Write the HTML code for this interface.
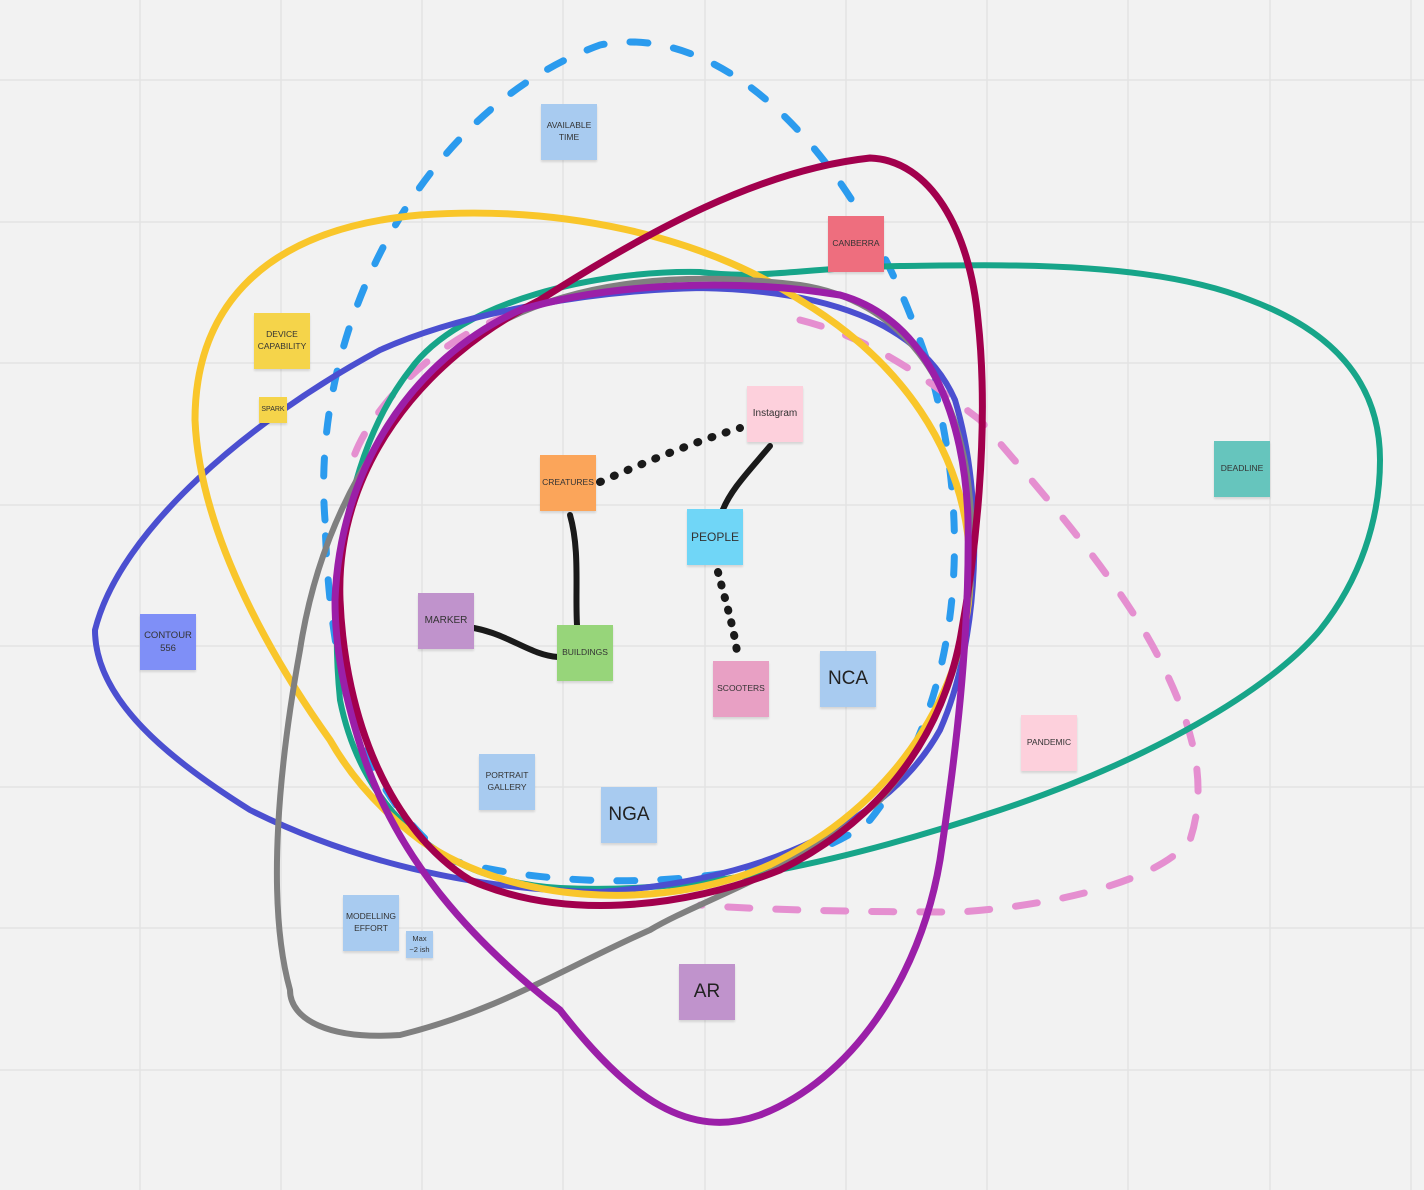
<!DOCTYPE html>
<html><head><meta charset="utf-8"><style>
html,body{margin:0;padding:0;}
body{width:1424px;height:1190px;background:#f2f2f2;position:relative;overflow:hidden;font-family:"Liberation Sans",sans-serif;}
.n{position:absolute;width:56px;height:56px;display:flex;align-items:center;justify-content:center;text-align:center;font-size:8.5px;color:#333;line-height:1.4;box-shadow:0 2px 2px rgba(0,0,0,0.12);}
.big{font-size:19px;color:#222;}
.mid{font-size:12px;}
</style></head><body>
<svg width="1424" height="1190" style="position:absolute;left:0;top:0">
<g stroke="#e3e3e3" stroke-width="1.5">
<line x1="140" y1="0" x2="140" y2="1190"/><line x1="281" y1="0" x2="281" y2="1190"/><line x1="422" y1="0" x2="422" y2="1190"/><line x1="563" y1="0" x2="563" y2="1190"/><line x1="705" y1="0" x2="705" y2="1190"/><line x1="846" y1="0" x2="846" y2="1190"/><line x1="987" y1="0" x2="987" y2="1190"/><line x1="1128" y1="0" x2="1128" y2="1190"/><line x1="1270" y1="0" x2="1270" y2="1190"/><line x1="1411" y1="0" x2="1411" y2="1190"/>
<line x1="0" y1="80" x2="1424" y2="80"/><line x1="0" y1="222" x2="1424" y2="222"/><line x1="0" y1="363" x2="1424" y2="363"/><line x1="0" y1="505" x2="1424" y2="505"/><line x1="0" y1="646" x2="1424" y2="646"/><line x1="0" y1="787" x2="1424" y2="787"/><line x1="0" y1="928" x2="1424" y2="928"/><line x1="0" y1="1070" x2="1424" y2="1070"/>
</g>
<g fill="none" stroke-linecap="round" stroke-linejoin="round">
<path d="M325 520 C310 330 420 110 600 45 C720 20 860 150 930 370 C980 550 950 720 870 820 C800 880 600 900 450 860 C370 800 330 700 325 520" stroke="#2b9bee" stroke-width="7" stroke-dasharray="18 26"/>
<path d="M510 315 C430 340 360 420 350 470 M800 320 C880 340 940 390 980 420 C1040 490 1120 580 1160 660 C1190 720 1210 780 1190 840 C1160 880 1060 905 960 912 C860 912 760 910 700 905" stroke="#e58fd0" stroke-width="7" stroke-dasharray="22 26"/>
<path d="M1380 460 C1380 380 1330 330 1250 300 C1150 260 1000 265 900 266 C800 268 760 280 700 272 C600 270 460 300 410 370 C340 460 330 600 340 700 C360 800 430 880 560 888 C700 895 850 860 1000 810 C1150 760 1270 690 1320 630 C1360 580 1380 520 1380 460" stroke="#17a589" stroke-width="6"/>
<path d="M95 630 C120 530 250 420 380 350 C470 310 600 290 700 288 C820 290 920 320 955 400 C985 500 980 640 940 730 C890 820 770 880 600 892 C450 890 330 850 250 810 C170 760 95 700 95 630" stroke="#4b4fd0" stroke-width="6"/>
<path d="M330 740 C280 670 200 540 195 420 C195 320 250 230 420 215 C560 205 700 235 800 300 C900 360 965 450 970 560 C975 680 900 800 780 860 C680 910 520 910 420 840 C380 810 350 775 330 740" stroke="#f9c62b" stroke-width="7"/>
<path d="M290 990 C265 900 280 760 300 650 C320 520 380 420 470 340 C560 280 680 270 800 285 C900 300 960 380 970 500 C980 620 950 720 880 800 C800 870 700 900 650 930 C560 970 500 1010 400 1035 C330 1040 290 1020 290 990" stroke="#808080" stroke-width="6"/>
<path d="M340 600 C335 470 420 360 540 300 C650 230 760 170 870 158 C930 160 970 230 978 320 C990 430 975 560 960 640 C940 740 880 820 780 870 C680 910 560 920 470 880 C390 830 345 720 340 600" stroke="#a2004d" stroke-width="7"/>
<path d="M335 600 C340 470 410 360 520 310 C620 280 750 280 840 295 C930 320 965 420 968 520 C970 640 955 760 940 860 C920 980 850 1080 760 1115 C690 1140 630 1100 560 1010 C470 940 400 860 365 760 C345 700 335 650 335 600" stroke="#9b1fa8" stroke-width="7"/>
</g>
<g fill="none" stroke="#1a1a1a" stroke-linecap="round">
<path d="M600 482 C650 460 700 440 740 428" stroke-width="8" stroke-dasharray="1 14"/>
<path d="M770 446 C750 470 730 490 722 512" stroke-width="6"/>
<path d="M718 572 C725 600 735 630 738 660" stroke-width="8" stroke-dasharray="1 12"/>
<path d="M570 515 C580 550 575 590 577 625" stroke-width="6"/>
<path d="M474 628 C510 635 530 655 558 657" stroke-width="6"/>
</g>
</svg>
<div class="n" style="left:541px;top:104px;background:#a8cbf0">AVAILABLE<br>TIME</div>
<div class="n" style="left:828px;top:216px;background:#ee6e7e">CANBERRA</div>
<div class="n" style="left:254px;top:313px;background:#f5d44a">DEVICE<br>CAPABILITY</div>
<div class="n" style="left:259px;top:397px;width:28px;height:26px;background:#f5d44a;font-size:7px">SPARK</div>
<div class="n" style="left:747px;top:386px;background:#fdd0dc;font-size:10px">Instagram</div>
<div class="n" style="left:540px;top:455px;background:#fba55a">CREATURES</div>
<div class="n mid" style="left:687px;top:509px;background:#70d6f7">PEOPLE</div>
<div class="n" style="left:1214px;top:441px;background:#66c5bd">DEADLINE</div>
<div class="n" style="left:418px;top:593px;background:#c093cc;font-size:10px">MARKER</div>
<div class="n" style="left:557px;top:625px;background:#97d57a">BUILDINGS</div>
<div class="n" style="left:140px;top:614px;background:#7f8ff7;font-size:9.5px">CONTOUR<br>556</div>
<div class="n" style="left:713px;top:661px;background:#e8a0c4">SCOOTERS</div>
<div class="n big" style="left:820px;top:651px;background:#a8cbf0">NCA</div>
<div class="n" style="left:1021px;top:715px;background:#fdd0dc">PANDEMIC</div>
<div class="n" style="left:479px;top:754px;background:#a8cbf0">PORTRAIT<br>GALLERY</div>
<div class="n big" style="left:601px;top:787px;background:#a8cbf0">NGA</div>
<div class="n" style="left:343px;top:895px;background:#a8cbf0">MODELLING<br>EFFORT</div>
<div class="n" style="left:406px;top:931px;width:27px;height:27px;background:#a8cbf0;font-size:7.5px">Max<br>~2 ish</div>
<div class="n big" style="left:679px;top:964px;background:#c093cc">AR</div>
</body></html>
